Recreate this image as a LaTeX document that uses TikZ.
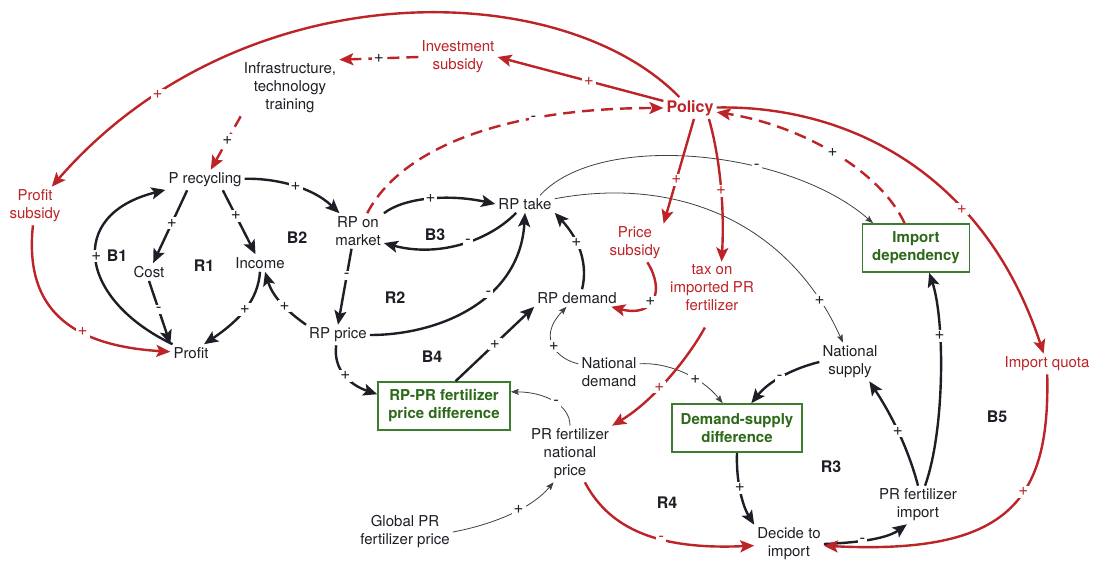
\documentclass[tikz,border=0pt]{standalone}
\usepackage{fontspec}
\setmainfont{TeX Gyre Heros}
\usetikzlibrary{arrows.meta}
\definecolor{cred}{RGB}{188,36,40}
\definecolor{cgreen}{RGB}{62,125,45}
\definecolor{cgtext}{RGB}{45,105,25}
\definecolor{ctext}{RGB}{30,30,38}
\tikzset{
  txt/.style={align=center, inner sep=3pt, text=ctext, font=\fontsize{15}{18}\selectfont},
  ptxt/.style={txt, text=cred},
  boxn/.style={draw=cgreen, line width=1.6pt, text=cgtext, font=\bfseries\fontsize{15}{18}\selectfont, align=center, minimum height=48pt, inner xsep=4pt},
  lp/.style={font=\bfseries\fontsize{16}{16}\selectfont, text=ctext},
  sg/.style={fill=white, inner sep=2pt, font=\fontsize{17}{17}\selectfont, text=ctext},
  rsg/.style={sg, text=cred},
  blk/.style={draw=ctext, line width=2.4pt, -{Stealth[length=14pt,width=12pt,inset=3pt]}},
  thn/.style={draw=black!75, line width=0.8pt, -{Stealth[length=8pt,width=6pt,inset=1.5pt]}},
  rln/.style={draw=cred, line width=2.4pt, -{Stealth[length=14pt,width=12pt,inset=3pt]}},
  rdash/.style={rln, dash pattern=on 12pt off 7pt},
}
\begin{document}
\begin{tikzpicture}[x=1pt,y=1pt]
\useasboundingbox (0,0) rectangle (1104,-563);
\fill[white] (0,0) rectangle (1104,-563);

% nodes
\node[txt] (infra) at (290,-88) {Infrastructure,\\technology\\training};
\node[ptxt] (invest) at (458,-57) {Investment\\subsidy};
\node[ptxt, font=\bfseries\fontsize{16}{18}\selectfont] (policy) at (690,-108) {Policy};
\node[ptxt] (psub) at (35,-206) {Profit\\subsidy};
\node[txt] (prec) at (205,-180) {P recycling};
\node[txt] (cost) at (149,-272) {Cost};
\node[txt] (income) at (260,-263) {Income};
\node[txt] (profit) at (191,-353) {Profit};
\node[txt] (rpm) at (358,-231) {RP on\\market};
\node[txt] (rptake) at (525,-204) {RP take};
\node[txt] (rpprice) at (338,-335) {RP price};
\node[txt] (rpdem) at (577,-298) {RP demand};
\node[ptxt] (pricesub) at (635,-243) {Price\\subsidy};
\node[ptxt] (tax) at (712,-288) {tax on\\imported PR\\fertilizer};
\node[boxn, minimum width=107pt] (impdep) at (916,-248) {Import\\dependency};
\node[txt] (natsup) at (850,-362) {National\\supply};
\node[ptxt] (quota) at (1047,-364) {Import quota};
\node[boxn, minimum width=132pt] (rppr) at (444,-406) {RP-PR fertilizer\\price difference};
\node[txt] (natdem) at (609,-372) {National\\demand};
\node[boxn, minimum width=130pt] (dsd) at (737,-428) {Demand-supply\\difference};
\node[txt] (prnat) at (570,-454) {PR fertilizer\\national\\price};
\node[txt] (global) at (405,-532) {Global PR\\fertilizer price};
\node[txt] (decide) at (789,-544) {Decide to\\import};
\node[txt] (primp) at (918,-505) {PR fertilizer\\import};

% loop labels
\node[lp] (lB1) at (117,-256) {B1};
\node[lp] (lR1) at (204,-266) {R1};
\node[lp] (lB2) at (297,-238) {B2};
\node[lp] (lB3) at (435,-235) {B3};
\node[lp] (lR2) at (395,-298) {R2};
\node[lp] (lB4) at (432,-357) {B4};
\node[lp] (lR3) at (831,-467) {R3};
\node[lp] (lR4) at (667,-503) {R4};
\node[lp] (lB5) at (997,-417) {B5};

% thin links
\draw[thn] (rptake.30) .. controls (600,-130) and (790,-150) .. node[sg,pos=0.65]{-} (impdep.150);
\draw[thn] (rptake.10) .. controls (680,-175) and (790,-225) .. node[sg,pos=0.87]{+} (natsup.110);
\draw[thn] (natdem.165) .. controls (560,-360) and (535,-340) .. node[sg,pos=0.5]{+} (rpdem.-140);
\draw[thn] (natdem.15) .. controls (665,-362) and (700,-375) .. node[sg,pos=0.65]{+} (dsd.120);
\draw[thn] (prnat.north) .. controls (570,-405) and (545,-392) .. node[sg,pos=0.45]{-} (rppr.12);
\draw[thn] (global.east) .. controls (490,-525) and (530,-510) .. node[sg,pos=0.6]{+} (prnat.-120);

% black links
\draw[blk] (prec) .. controls (270,-178) and (310,-185) .. node[sg,pos=0.55]{+} (rpm);
\draw[blk] (prec.-150) -- node[sg,pos=0.45]{+} (cost);
\draw[blk] (prec.-30) -- node[sg,pos=0.4]{+} (income);
\draw[blk] (cost.south) -- node[sg,pos=0.45]{-} (profit.north west);
\draw[blk] (profit) .. controls (80,-300) and (65,-215) .. node[sg,pos=0.52]{+} (prec);
\draw[blk] (income.south) .. controls (258,-300) and (240,-320) .. node[sg,pos=0.5]{+} (profit);
\draw[blk] (rpprice.north west) .. controls (285,-310) and (272,-295) .. node[sg,pos=0.4]{+} (income.-60);
\draw[blk] (rpm.-110) -- node[sg,pos=0.35]{-} (rpprice.north);
\draw[blk] (rpm.north east) .. controls (405,-197) and (450,-194) .. node[sg,pos=0.5]{+} (rptake.west);
\draw[blk] (rptake.-135) .. controls (490,-240) and (440,-258) .. node[sg,pos=0.45]{-} (rpm.-25);
\draw[blk] (rpprice.east) .. controls (440,-335) and (520,-300) .. node[sg,pos=0.6]{-} (rptake.south);
\draw[blk] (rpdem.60) .. controls (588,-265) and (580,-240) .. node[sg,pos=0.62]{+} (rptake.south east);
\draw[blk] (rpprice.-100) .. controls (333,-370) and (350,-385) .. node[sg,pos=0.5]{+} (rppr.170);
\draw[blk] (rppr.65) -- node[sg,pos=0.5]{+} (rpdem.south west);
\draw[blk] (natsup.west) .. controls (795,-368) and (770,-380) .. node[sg,pos=0.55]{-} (dsd.60);
\draw[blk] (dsd.south) .. controls (736,-480) and (742,-505) .. node[sg,pos=0.45]{+} (decide.north west);
\draw[blk] (decide.east) .. controls (850,-543) and (885,-540) .. node[sg,pos=0.45]{-} (primp.-120);
\draw[blk] (primp.north) .. controls (910,-455) and (895,-420) .. node[sg,pos=0.55]{+} (natsup.-45);
\draw[blk] (primp.70) .. controls (945,-430) and (945,-320) .. node[sg,pos=0.67]{+} (impdep.-62);

% red links
\draw[rln] (policy) .. controls (560,25) and (240,30) .. node[rsg,pos=0.83]{+} (psub);
\draw[rln] (policy) -- node[rsg,pos=0.45]{+} (invest.east);
\draw[rdash] (invest.west) -- node[sg,pos=0.5]{+} (infra.north east);
\draw[rdash] (infra.south west) -- node[sg,pos=0.45]{+} (prec);
\draw[rln] (psub) .. controls (25,-300) and (60,-345) .. node[rsg,pos=0.66]{+} (profit);
\draw[rdash] (rpm) .. controls (400,-150) and (500,-108) .. node[sg,pos=0.7]{-} (policy);
\draw[rln] (policy.-70) -- node[rsg,pos=0.58]{+} (pricesub.north east);
\draw[rln] (policy.-30) .. controls (718,-150) and (725,-200) .. node[rsg,pos=0.58]{+} (tax.70);
\draw[rln] (pricesub) .. controls (665,-290) and (655,-318) .. node[sg,pos=0.55]{+} (rpdem);
\draw[rln, shorten <=15pt] (tax.south) .. controls (690,-355) and (655,-400) .. node[rsg,pos=0.6]{+} (prnat.north east);
\draw[rln] (policy) .. controls (850,-105) and (985,-175) .. node[rsg,pos=0.665]{+} (quota);
\draw[rln] (quota) .. controls (1050,-500) and (1010,-555) .. node[rsg,pos=0.4]{+} (decide);
\draw[rdash] (impdep) .. controls (880,-170) and (800,-125) .. node[sg,pos=0.5]{+} (policy);
\draw[rln] (prnat) .. controls (610,-530) and (660,-550) .. node[rsg,pos=0.6]{-} (decide);
\end{tikzpicture}
\end{document}
